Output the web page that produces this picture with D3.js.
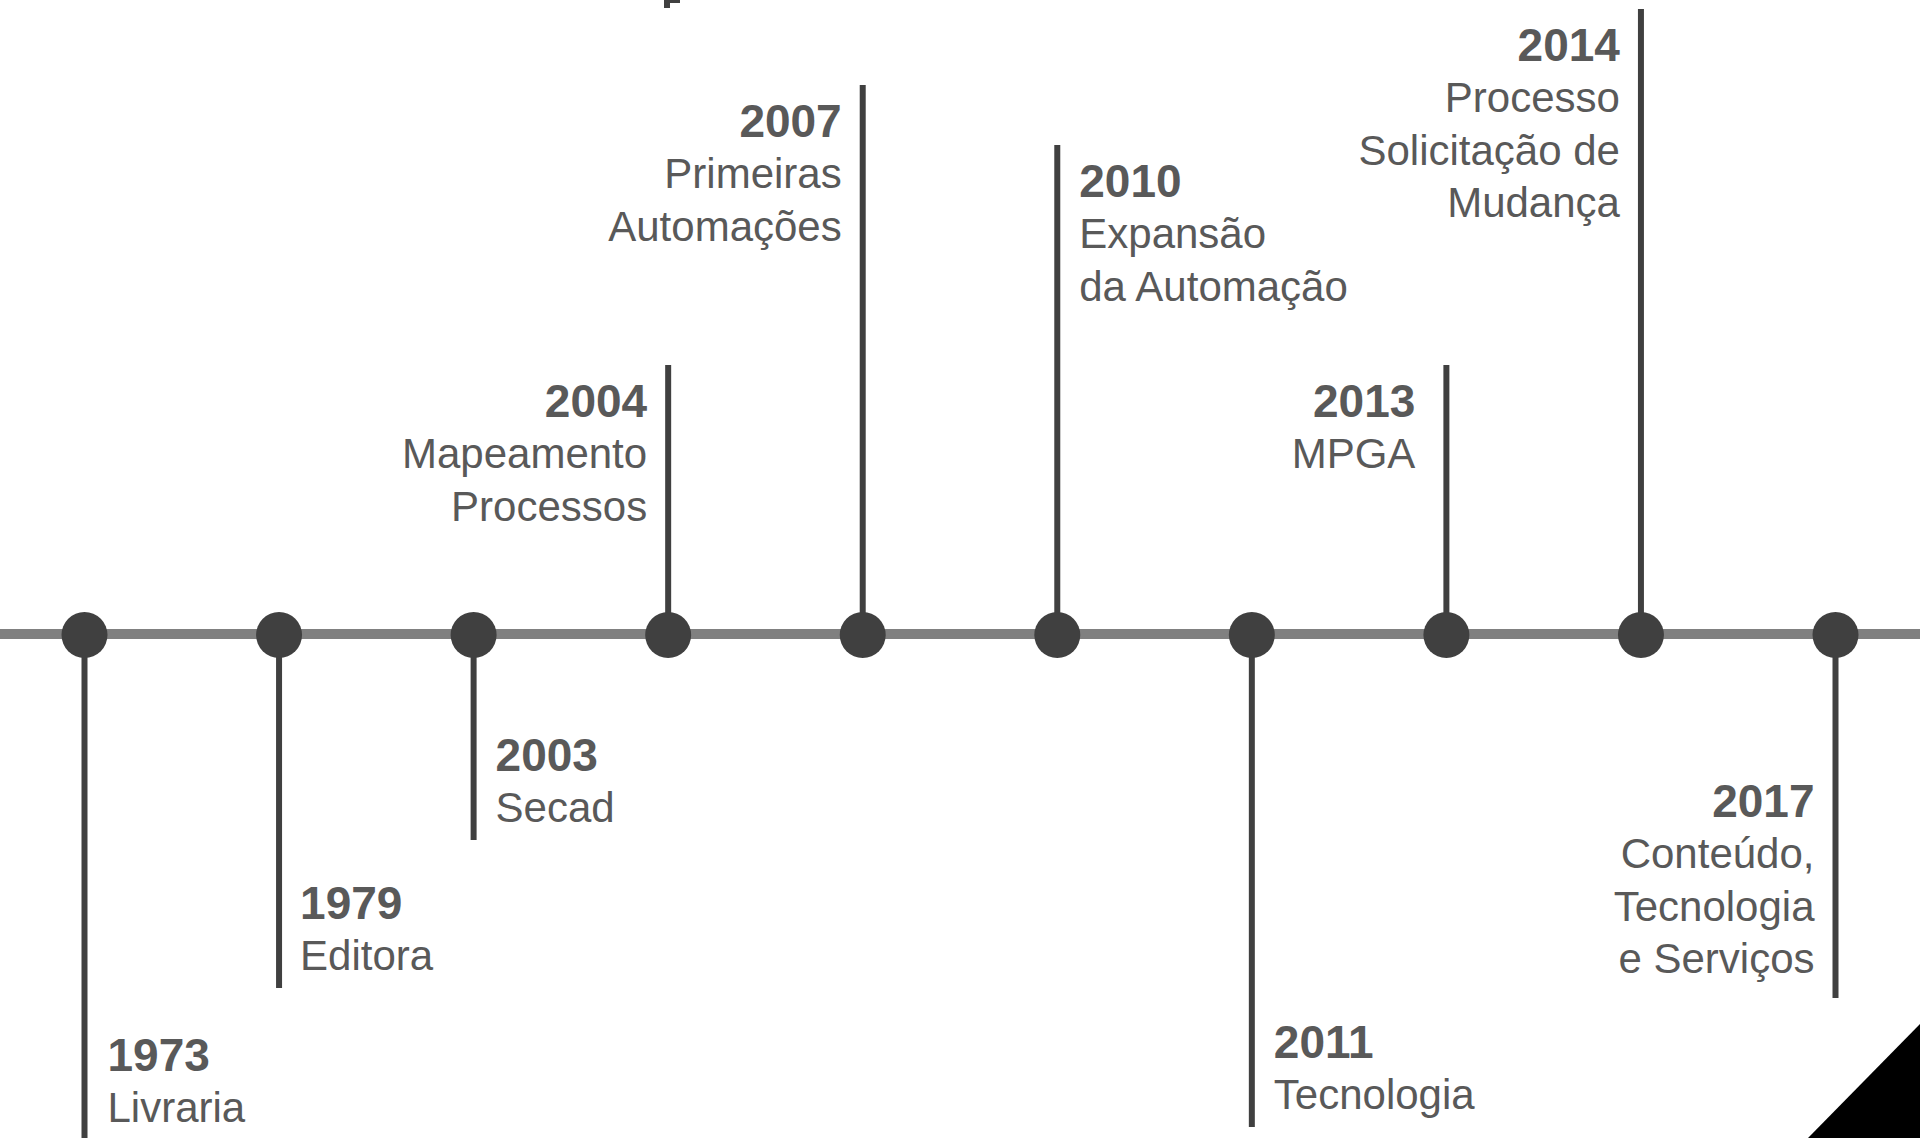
<!DOCTYPE html>
<html>
<head>
<meta charset="utf-8">
<script src="https://cdn.jsdelivr.net/npm/d3@7"></script>
<style>
  html, body { margin: 0; padding: 0; background: #fff; overflow: hidden; }
  svg { display: block; }
  text { font-family: "Liberation Sans", Arimo, Arial, Helvetica, sans-serif; }
</style>
</head>
<body>
<script>
// timeline data
var years = ["1973", "1979", "2003", "2004", "2007", "2010", "2011", "2013", "2014", "2017"];
var labels = [
	["Livraria"],
	["Editora"],
	["Secad"],
	["Mapeamento", "Processos"],
	["Primeiras", "Automações"],
	["Expansão", "da Automação"],
	["Tecnologia"],
	["MPGA"],
	["Processo", "Solicitação de", "Mudança"],
	["Conteúdo,", "Tecnologia", "e Serviços"]
];
// stem length, positive = above the line
var stems = [-506, -354, -206, 269, 549, 489, -493, 269, 625, -364];
// which side of the stem the text sits on
var sides = ["right", "right", "right", "left", "left", "right", "right", "left", "left", "left"];
// gap between stem and text
var gaps = [23, 21, 22, 21, 21, 22, 22, 31, 21, 21];
// space left under the last line for stems that go down
var tails = [18, 18, 18, 0, 0, 0, 18, 0, 0, 25];

var width = 1920, height = 1138;
var axisY = 634;

var svg = d3.select("body").append("svg")
	.attr("width", width)
	.attr("height", height);

var x = d3.scalePoint()
	.domain(years)
	.range([84.5, 1835.5]);

var y = d3.scaleLinear()
	.domain([0, 1])
	.range([axisY, axisY - 1]);

var events = years.map(function(yr, i) {
	return { year: yr, lines: labels[i], stem: stems[i], side: sides[i], gap: gaps[i], tail: tails[i] };
});

// bit of the cut-off heading at the top
svg.append("rect")
	.attr("x", 664)
	.attr("y", 0)
	.attr("width", 16)
	.attr("height", 3)
	.attr("fill", "#404040");
svg.append("rect")
	.attr("x", 664)
	.attr("y", 0)
	.attr("width", 6)
	.attr("height", 8)
	.attr("fill", "#404040");

// main line
svg.append("line")
	.attr("x1", 0)
	.attr("x2", width)
	.attr("y1", axisY)
	.attr("y2", axisY)
	.attr("stroke", "#808080")
	.attr("stroke-width", 10);

var g = svg.selectAll("g.event")
	.data(events)
	.enter()
	.append("g")
	.classed("event", true);

g.append("line")
	.attr("x1", function(d) { return x(d.year); })
	.attr("x2", function(d) { return x(d.year); })
	.attr("y1", axisY)
	.attr("y2", function(d) { return y(d.stem); })
	.attr("stroke", "#404040")
	.attr("stroke-width", 6);

g.append("circle")
	.attr("cx", function(d) { return x(d.year); })
	.attr("cy", axisY + 1)
	.attr("r", 23)
	.attr("fill", "#404040");

var lineH = 52.5;
var firstGap = 51;

g.each(function(d) {
	var gx = x(d.year) + (d.side === "right" ? d.gap : -d.gap);
	var anchor = d.side === "right" ? "start" : "end";
	var yearY;
	if (d.stem > 0) {
		yearY = y(d.stem) + 52;
	} else {
		var lastY = y(d.stem) - d.tail;
		yearY = lastY - (d.lines.length - 1) * lineH - firstGap;
	}
	var t = d3.select(this).append("text")
		.attr("text-anchor", anchor)
		.attr("fill", "#595959");
	t.append("tspan")
		.attr("x", gx)
		.attr("y", yearY)
		.attr("font-weight", "bold")
		.attr("font-size", 46)
		.text(d.year);
	d.lines.forEach(function(line, i) {
		t.append("tspan")
			.attr("x", gx)
			.attr("y", yearY + firstGap + i * lineH)
			.attr("font-size", 42)
			.text(line);
	});
});

// black corner triangle
svg.append("path")
	.attr("d", d3.line()([[width, 1024], [width, height], [1808, height]]) + "Z")
	.attr("fill", "#000");
</script>
</body>
</html>
